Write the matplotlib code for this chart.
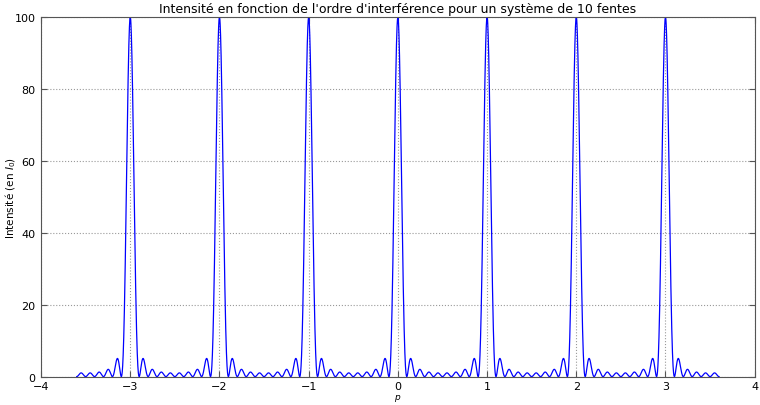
import numpy as np
import matplotlib
matplotlib.use("Agg")
import matplotlib.pyplot as plt

# parameters of the plotted grating function
n_slits = 10
p_min, p_max = -3.6, 3.6
n_points = 14401

x_ticks = [-4, -3, -2, -1, 0, 1, 2, 3, 4]
y_ticks = [0, 20, 40, 60, 80, 100]

p = np.linspace(p_min, p_max, n_points)
s = np.sin(np.pi * p)
small = np.abs(s) < 1e-9
intensity = np.where(small, n_slits ** 2,
                     (np.sin(n_slits * np.pi * p) / np.where(small, 1, s)) ** 2)

fig, ax = plt.subplots(figsize=(7.6, 4.06), dpi=100)
fig.subplots_adjust(left=0.054, right=0.993, top=0.955, bottom=0.07)

ax.plot(p, intensity, color="#0000ff", linewidth=0.9)

ax.set_xlim(-4, 4)
ax.set_ylim(0, 100)
ax.set_xticks(x_ticks)
ax.set_yticks(y_ticks)
ax.set_xticklabels(["\u2212" + str(abs(t)) if t < 0 else str(t) for t in x_ticks])
ax.tick_params(direction="in", top=True, right=True, labelsize=8, length=4, pad=4, color="#555555")
ax.tick_params(axis="x", pad=3)
ax.grid(True, linestyle=":", color="#999999", linewidth=0.8)
for sp in ax.spines.values():
    sp.set_color("#555555")

ax.set_title("Intensité en fonction de l'ordre d'interférence pour un système de 10 fentes", fontsize=9, pad=4)
ax.set_xlabel("$p$", fontsize=6.5)
ax.set_ylabel("Intensité (en $I_0$)", fontsize=7.5)
ax.xaxis.set_label_coords(0.5, -0.042)
ax.yaxis.set_label_coords(-0.032, 0.5)

fig.savefig("out.png", dpi=100)
